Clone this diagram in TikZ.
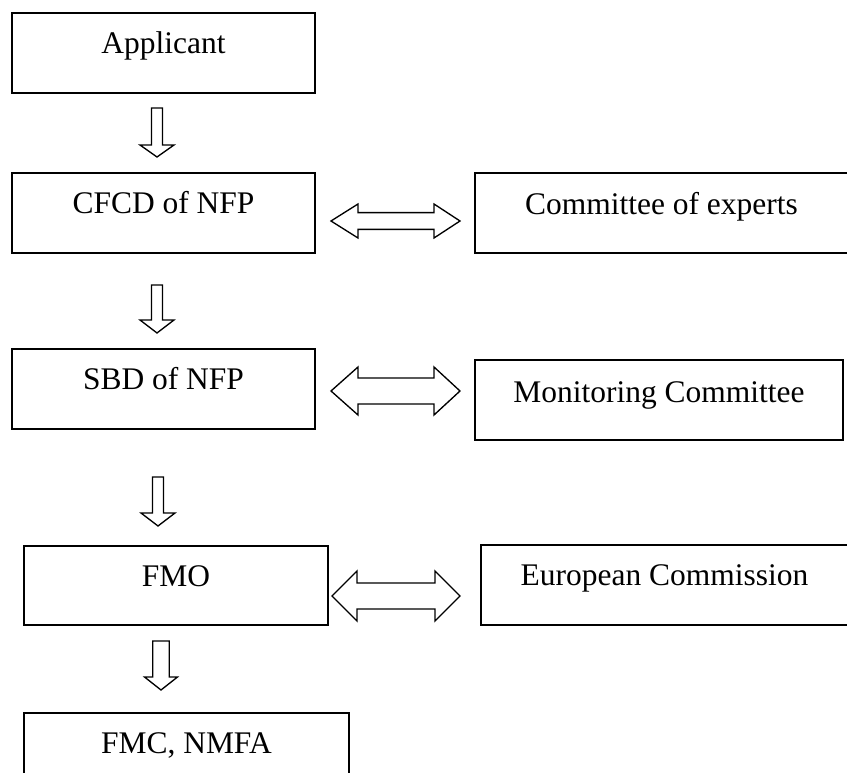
\documentclass[tikz,border=0pt]{standalone}
\usepackage{fontspec}
\setmainfont{Liberation Serif}
\newcommand\vblk[6]{% cx, top, base, tip, shaft half, head half
  \draw[arr] ({#1-#5},#2) -- ({#1+#5},#2) -- ({#1+#5},#3) -- ({#1+#6},#3) -- (#1,#4) -- ({#1-#6},#3) -- ({#1-#5},#3) -- cycle;}
\newcommand\hblk[7]{% cy, left tip, left base, right base, right tip, shaft half, head half
  \draw[arr] (#2,#1) -- (#3,{#1-#7}) -- (#3,{#1-#6}) -- (#4,{#1-#6}) -- (#4,{#1-#7}) -- (#5,#1) -- (#4,{#1+#7}) -- (#4,{#1+#6}) -- (#3,{#1+#6}) -- (#3,{#1+#7}) -- cycle;}
\begin{document}
\begin{tikzpicture}[x=0.75pt,y=-0.75pt,
  box/.style 2 args={draw, line width=1pt, rectangle, inner sep=0pt,
     minimum width=#1*0.75pt, minimum height=#2*0.75pt},
  lbl/.style={font=\fontsize{23.6}{28}\selectfont, anchor=base, inner sep=0pt},
  arr/.style={draw, line width=1pt, line join=miter, fill=white}]
\useasboundingbox (0,0) rectangle (847,773);
\clip (0,0) rectangle (847,773);
% left column
\node[box={303}{80}] (app)  at (163.5,53) {};
\node[box={303}{80}] (cfcd) at (163.5,213) {};
\node[box={303}{80}] (sbd)  at (163.5,389) {};
\node[box={304}{79}] (fmo)  at (176,585.5) {};
\node[box={325}{87}] (fmc)  at (186.5,756.5) {};
% right column
\node[box={373}{80}] (coe) at (661.5,213) {};
\node[box={368}{80}] (mon) at (659,400) {};
\node[box={367}{80}] (ec)  at (664.5,585) {};
% labels
\node[lbl] (appt)  at ([yshift=-41*0.75pt]app.north)  {Applicant};
\node[lbl] (cfcdt) at ([yshift=-41*0.75pt]cfcd.north) {CFCD of NFP};
\node[lbl] (sbdt)  at ([yshift=-41*0.75pt]sbd.north)  {SBD of NFP};
\node[lbl] (fmot)  at ([yshift=-41*0.75pt]fmo.north)  {FMO};
\node[lbl] (fmct)  at ([yshift=-41*0.75pt]fmc.north)  {FMC, NMFA};
\node[lbl] (coet)  at ([yshift=-42*0.75pt]coe.north)  {Committee of experts};
\node[lbl] (mont)  at ([yshift=-43*0.75pt]mon.north)  {Monitoring Committee};
\node[lbl] (ect)   at ([yshift=-41*0.75pt]ec.north)   {European Commission};
% down block arrows
\vblk{157}{108}{145}{157}{5.5}{17}
\vblk{157}{285}{320}{333}{5.5}{17}
\vblk{158}{477}{513}{526}{5.5}{17}
\vblk{161}{641}{677}{690}{8.3}{16.5}
% double block arrows
\hblk{221}{331}{358}{434}{460}{8.4}{17}
\hblk{391}{331}{358}{434}{460}{13}{24}
\hblk{596}{332}{357}{435}{460}{13}{25}
\end{tikzpicture}
\end{document}
